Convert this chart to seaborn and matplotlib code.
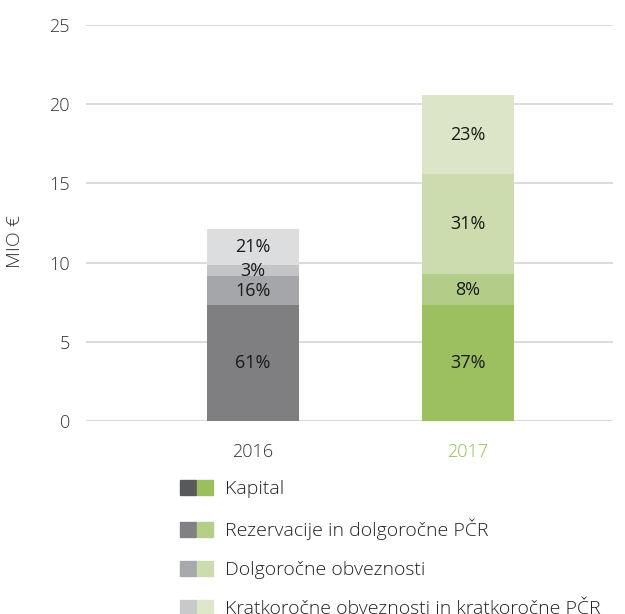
"""
Stacked bars of liabilities structure, 2016 vs 2017
"""

import pandas as pd
import matplotlib.pyplot as plt
import seaborn as sns
from matplotlib.patches import Patch
from matplotlib.legend_handler import HandlerTuple

# Data (MIO €)
years = ["2016", "2017"]
segments = [
    "Kapital",
    "Rezervacije in dolgoročne PČR",
    "Dolgoročne obveznosti",
    "Kratkoročne obveznosti in kratkoročne PČR",
]
values_2016 = [7.32, 1.83, 0.69, 2.27]
values_2017 = [7.32, 1.96, 6.31, 4.99]
labels_2016 = ["61%", "16%", "3%", "21%"]
labels_2017 = ["37%", "8%", "31%", "23%"]

# Colours
bar_gray = ["#7f7f82", "#a5a6a9", "#c4c5c7", "#dcdddf"]
bar_green = ["#9cbf60", "#b3cc88", "#ccdcae", "#dce5c7"]
legend_gray = ["#58595b", "#808184", "#a7a8ab", "#c8c9cb"]
legend_green = ["#9bbf5e", "#b5cf8a", "#cddcaf", "#dfe7c9"]

sns.set_style("white")
plt.rcParams["font.family"] = ["Open Sans", "DejaVu Sans"]

fig = plt.figure(figsize=(6.25, 6.14), dpi=100)
ax = fig.add_axes([0.1376, 0.3143, 0.843, 0.645])

# Long table with cumulative tops per segment
rows = []
for year, vals, labs in [("2016", values_2016, labels_2016), ("2017", values_2017, labels_2017)]:
    bottom = 0.0
    for seg, v, lab in zip(segments, vals, labs):
        rows.append({"year": year, "segment": seg, "value": v,
                     "bottom": bottom, "top": bottom + v, "label": lab})
        bottom += v
df = pd.DataFrame(rows)

# Draw from the topmost segment down so each layer covers the one above
for i in reversed(range(len(segments))):
    sub = df[df["segment"] == segments[i]]
    sns.barplot(data=sub, x="year", y="top", hue="year", order=years,
                palette={"2016": bar_gray[i], "2017": bar_green[i]},
                width=0.428, legend=False, ax=ax, saturation=1, linewidth=0,
                zorder=3)

# Percent labels at segment centres
for _, r in df.iterrows():
    xpos = years.index(r["year"])
    ax.text(xpos, r["bottom"] + r["value"] / 2, r["label"], ha="center",
            va="center", fontsize=13, color="#1a1a1a", zorder=4)

ax.set_ylim(0, 25)
ax.set_xlim(-0.777, 1.674)
ax.set_yticks([0, 5, 10, 15, 20, 25])
ax.yaxis.grid(True, color="#d9d9d9", linewidth=1.3, zorder=0)
ax.xaxis.grid(False)
sns.despine(ax=ax, left=True, bottom=True, top=True, right=True)
ax.tick_params(axis="y", length=0, pad=11.5, labelsize=13, labelcolor="#333333")
ax.tick_params(axis="x", length=0, pad=16, labelsize=13)
for lab in ax.get_yticklabels():
    lab.set_fontweight("light")
xt = ax.get_xticklabels()
xt[0].set_color("#333333")
xt[1].set_color("#8cbf50")
for lab in xt:
    lab.set_fontweight("light")
ax.set_xlabel("")
ax.set_ylabel("")
fig.text(15 / 625, 1 - 242 / 614, "MIO €", rotation=90, ha="center",
         va="center", fontsize=14, color="#333333", fontweight="light")

# Legend with paired gray/green squares
handles = [(Patch(color=g), Patch(color=gr)) for g, gr in zip(legend_gray, legend_green)]
fig.legend(handles, segments, handler_map={tuple: HandlerTuple(ndivide=None, pad=0.05)},
           loc="upper left", bbox_to_anchor=(180 / 625, 1 - 480 / 614),
           frameon=False, handlelength=1.72, handleheight=0.82,
           handletextpad=0.57, labelspacing=1.06, borderpad=0, borderaxespad=0,
           labelcolor="#222222", prop={"weight": "light", "size": 14})

fig.savefig("out.png", dpi=100)
